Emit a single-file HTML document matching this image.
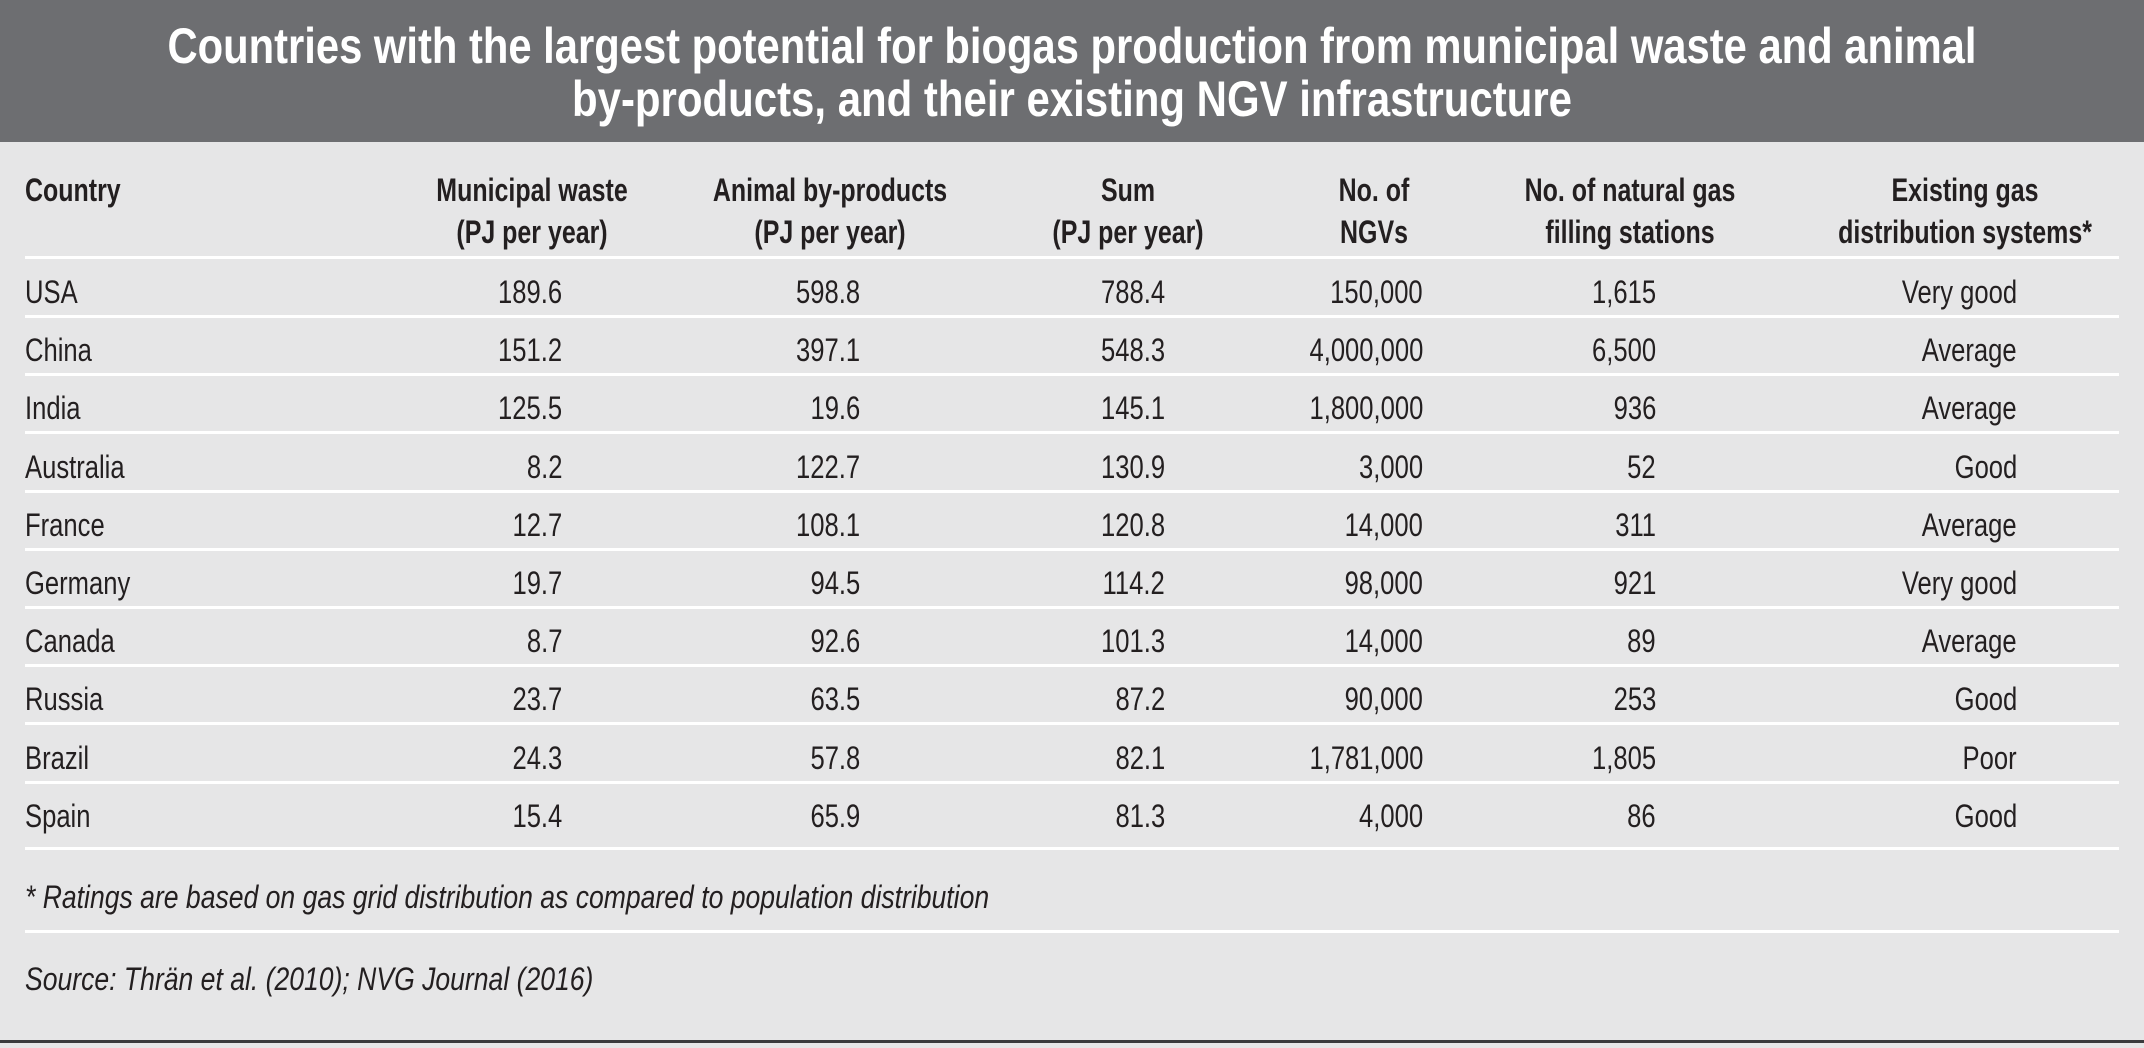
<!DOCTYPE html>
<html><head><meta charset="utf-8"><style>
html,body{margin:0;padding:0}
body{width:2144px;height:1048px;position:relative;background:#e6e6e7;overflow:hidden;font-family:"Liberation Sans Narrow","Liberation Sans",sans-serif;color:#231f20}
.hdr{position:absolute;left:0;top:0;width:2144px;height:142px;background:#6d6e71}
.t{position:absolute;font-size:32px;line-height:40px;height:40px;white-space:nowrap}
.l{transform-origin:left center;transform:scaleX(.8)}
.r{transform-origin:right center;transform:scaleX(.8)}
.c{transform:translateX(-50%) scaleX(.78)}
.b{font-weight:bold}
.b.l{transform:scaleX(.78)}
.i.l{transform:scaleX(.83)}
.i{font-style:italic}
.ln{position:absolute;left:25px;width:2094px;height:3px;background:#fff}
</style></head><body>
<div class="hdr"></div>
<svg style="position:absolute;left:0;top:0" width="2144" height="142">
<text x="1072" y="63" text-anchor="middle" font-family="Liberation Sans Narrow, Liberation Sans, sans-serif" font-weight="bold" font-size="50" fill="#fff" textLength="1809" lengthAdjust="spacingAndGlyphs">Countries with the largest potential for biogas production from municipal waste and animal</text>
<text x="1072" y="116" text-anchor="middle" font-family="Liberation Sans Narrow, Liberation Sans, sans-serif" font-weight="bold" font-size="50" fill="#fff" textLength="1000" lengthAdjust="spacingAndGlyphs">by-products, and their existing NGV infrastructure</text>
</svg>
<div class="t b l" style="left:25px;top:170px">Country</div>
<div class="t b c" style="left:532px;top:170px">Municipal waste</div>
<div class="t b c" style="left:532px;top:212px">(PJ per year)</div>
<div class="t b c" style="left:830px;top:170px">Animal by-products</div>
<div class="t b c" style="left:830px;top:212px">(PJ per year)</div>
<div class="t b c" style="left:1128px;top:170px">Sum</div>
<div class="t b c" style="left:1128px;top:212px">(PJ per year)</div>
<div class="t b c" style="left:1374px;top:170px">No. of</div>
<div class="t b c" style="left:1374px;top:212px">NGVs</div>
<div class="t b c" style="left:1630px;top:170px">No. of natural gas</div>
<div class="t b c" style="left:1630px;top:212px">filling stations</div>
<div class="t b c" style="left:1965px;top:170px">Existing gas</div>
<div class="t b c" style="left:1965px;top:212px">distribution systems*</div>
<div class="ln" style="top:256px"></div>
<div id="rows"></div>
<script>
(function(){
var d=[["USA","189.6","598.8","788.4","150,000","1,615","Very good"],
["China","151.2","397.1","548.3","4,000,000","6,500","Average"],
["India","125.5","19.6","145.1","1,800,000","936","Average"],
["Australia","8.2","122.7","130.9","3,000","52","Good"],
["France","12.7","108.1","120.8","14,000","311","Average"],
["Germany","19.7","94.5","114.2","98,000","921","Very good"],
["Canada","8.7","92.6","101.3","14,000","89","Average"],
["Russia","23.7","63.5","87.2","90,000","253","Good"],
["Brazil","24.3","57.8","82.1","1,781,000","1,805","Poor"],
["Spain","15.4","65.9","81.3","4,000","86","Good"]];
var rx=[562,860,1165,1423,1656,2017],h="";
for(var i=0;i<d.length;i++){var ty=Math.round(272+i*58.2);
h+='<div class="t l" style="left:25px;top:'+ty+'px">'+d[i][0]+'</div>';
for(var j=1;j<7;j++)h+='<div class="t r" style="right:'+(2144-rx[j-1])+'px;top:'+ty+'px">'+d[i][j]+'</div>';
var ly=i<9?Math.round(315+i*58.2):847;h+='<div class="ln" style="top:'+ly+'px"></div>';}
document.getElementById("rows").innerHTML=h;
})();
</script>
<div class="t i l" style="left:25px;top:877px">* Ratings are based on gas grid distribution as compared to population distribution</div>
<div class="ln" style="top:930px"></div>
<div class="t i l" style="left:25px;top:959px">Source: Thrän et al. (2010); NVG Journal (2016)</div>
<div style="position:absolute;left:0;top:1040px;width:2144px;height:3px;background:#3a3a3c"></div>
</body></html>
